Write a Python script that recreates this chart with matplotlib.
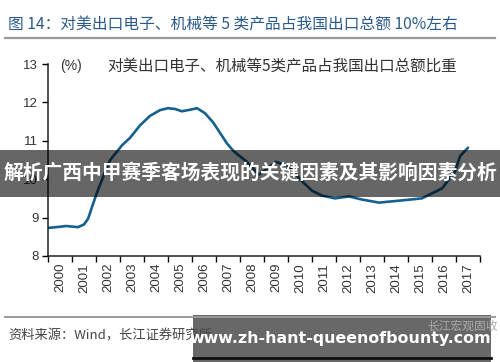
import numpy as np
import matplotlib
matplotlib.use("Agg")
import matplotlib.pyplot as plt
from matplotlib.patches import Rectangle

plt.rcParams['font.family'] = ['Noto Sans CJK SC', 'DejaVu Sans']

# readings of the smoothed line (time in years, share in %)
years = [2000.00, 2000.50, 2000.75, 2001.25, 2001.50, 2001.67, 2001.88, 2002.04,
         2002.29, 2002.58, 2003.08, 2003.42, 2003.83, 2004.25, 2004.67, 2005.00,
         2005.29, 2005.58, 2005.92, 2006.21, 2006.54, 2006.88, 2007.46, 2007.75,
         2008.29, 2008.79, 2008.92, 2009.50, 2010.04, 2010.58, 2011.00, 2011.42,
         2011.96, 2012.54, 2013.08, 2013.79, 2014.63, 2015.58, 2016.42, 2016.96,
         2017.17]
share = [8.73, 8.76, 8.78, 8.75, 8.82, 8.97, 9.36, 9.65,
         10.05, 10.49, 10.88, 11.08, 11.40, 11.65, 11.80, 11.85,
         11.83, 11.77, 11.81, 11.85, 11.72, 11.48, 10.93, 10.72,
         10.45, 10.12, 10.18, 10.45, 10.34, 9.95, 9.70, 9.57,
         9.50, 9.55, 9.47, 9.39, 9.44, 9.50, 9.76, 10.20,
         10.60]
share_end = 10.82
year_labels = [str(y) for y in range(2000, 2018)]

title = "图 14：对美出口电子、机械等 5 类产品占我国出口总额 10%左右"
chart_title = "对美出口电子、机械等5类产品占我国出口总额比重"
source = "资料来源：Wind，长江证券研究所"
banner = "解析广西中甲赛季客场表现的关键因素及其影响因素分析"
watermark = "www.zh-hant-queenofbounty.com"
logo = "长江宏观固收"

fig = plt.figure(figsize=(5, 3.62), dpi=100)
ax = fig.add_axes([0.096, 0.293, 0.864, 0.53])

x = np.array(years + [2017.5])
y = np.array(share + [share_end])
ax.plot(x, y, color='#15608f', lw=1.9, solid_joinstyle='round', solid_capstyle='round')

ax.set_ylim(8, 13)
ax.set_xlim(2000, 2018)
ax.set_yticks([8, 9, 10, 11, 12, 13])
ax.set_yticklabels(['8', '9', '10', '11', '12', '13'], family='Liberation Sans',
                   fontsize=9.5, color='#333333')
ax.set_xticks(np.arange(2000, 2019))
ax.set_xticklabels([])
ax.set_xticks(np.arange(2000, 2018) + 0.5, minor=True)
ax.set_xticklabels(year_labels, minor=True, rotation=90, family='Liberation Sans',
                   fontsize=9.5, color='#333333')
ax.tick_params(axis='x', which='major', length=4, width=1, direction='out')
ax.tick_params(axis='x', which='minor', length=0, pad=5)
ax.tick_params(axis='y', length=4, width=1, direction='out', pad=3)
for s in ['top', 'right']:
    ax.spines[s].set_visible(False)
for s in ['left', 'bottom']:
    ax.spines[s].set_color('#222222')
    ax.spines[s].set_linewidth(1.1)

fig.text(0.12, 0.818, "(%)", fontsize=10, color='#333333', va='center',
         family=['Liberation Sans', 'Noto Sans CJK SC'])
fig.text(0.215, 0.818, chart_title, fontsize=11.2, color='#333333', va='center')

fig.text(0.016, 0.932, title, fontsize=11.3, color='#2a5a8c', va='center')
fig.add_artist(plt.Line2D([0.01, 0.99], [0.895, 0.895], color='#9a9a9a', lw=1.6))
fig.add_artist(plt.Line2D([0.01, 0.99], [0.124, 0.124], color='#9a9a9a', lw=1.4))
fig.text(0.016, 0.072, source, fontsize=9.5, color='#444444', va='center')
fig.text(0.925, 0.1, logo, fontsize=8.5, color='#aaaaaa', va='center', ha='center')

fig.add_artist(Rectangle((0, 0.456), 1, 0.13, transform=fig.transFigure,
                         facecolor='black', alpha=0.6, edgecolor='none'))
fig.text(0.5, 0.52, banner, fontsize=14.2, color='white', weight='bold',
         ha='center', va='center')

fig.add_artist(Rectangle((0.386, 0.0), 0.596, 0.13, transform=fig.transFigure,
                         facecolor='#5c5c5c', alpha=0.93, edgecolor='none'))
fig.add_artist(plt.Line2D([0.386, 0.982], [0.012, 0.012], color='#111111', lw=2))
fig.text(0.68, 0.066, watermark, fontsize=11.4, color='white', weight='bold',
         ha='center', va='center', family=['DejaVu Sans'])

fig.savefig("out.png", dpi=100)
